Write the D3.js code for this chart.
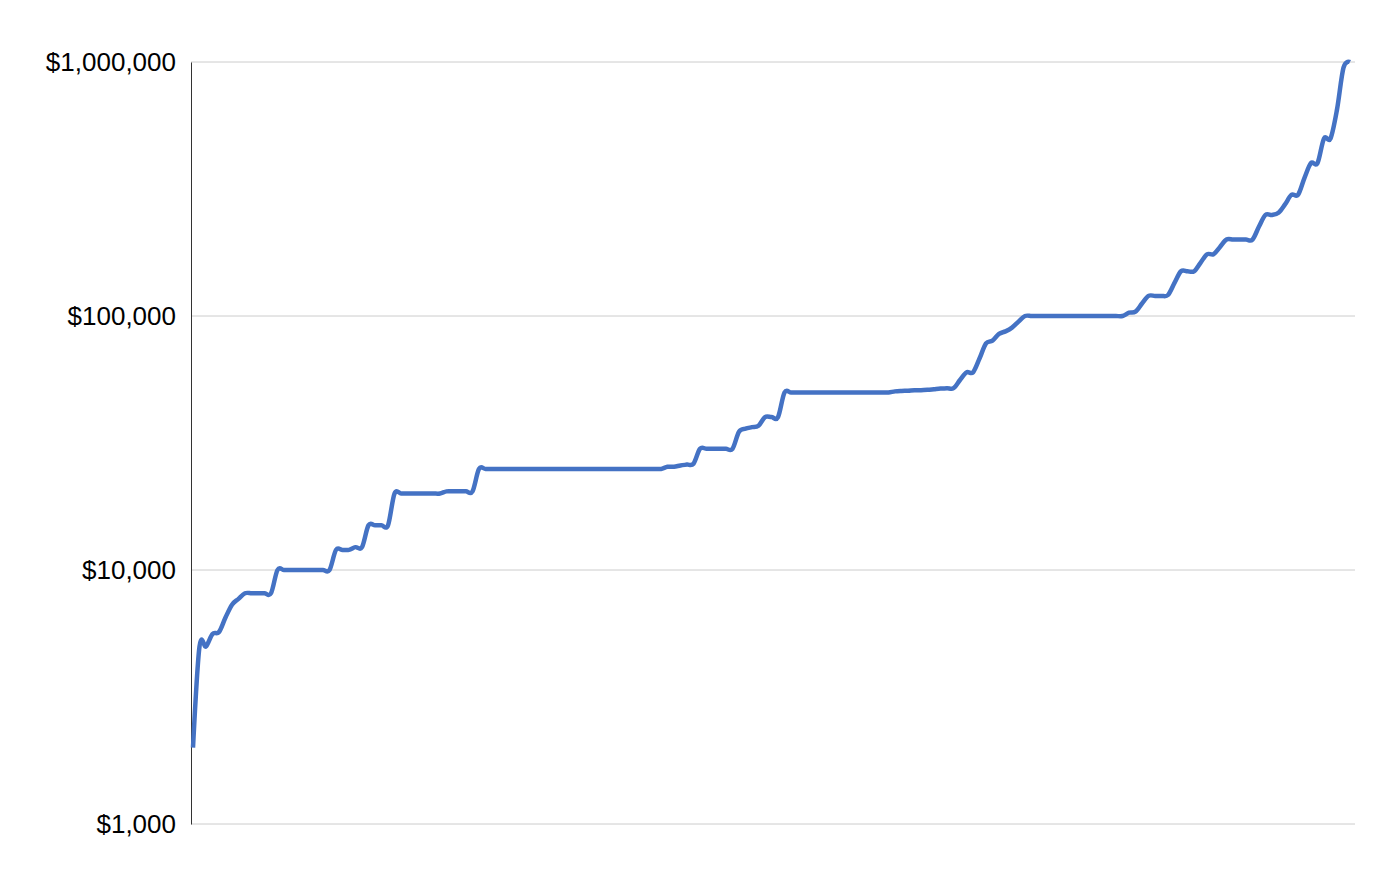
<!DOCTYPE html>
<html>
<head>
<meta charset="utf-8">
<script src="https://cdn.jsdelivr.net/npm/d3@7"></script>
<style>
  body { margin: 0; background: #fff; }
  .tick text { font-family: Arial, "Liberation Sans", sans-serif; }
</style>
</head>
<body>
<div id="chart"></div>
<script>
// sorted amounts, one per rank
const amounts = [
  2000, 5000, 5000, 5600, 5700, 6500, 7300, 7700, 8100, 8100,
  8100, 8100, 8100, 10000, 10000, 10000, 10000, 10000, 10000, 10000,
  10000, 10000, 12000, 12000, 12000, 12300, 12300, 15000, 15000, 15000,
  15000, 20000, 20000, 20000, 20000, 20000, 20000, 20000, 20000, 20400,
  20400, 20400, 20400, 20400, 25000, 25000, 25000, 25000, 25000, 25000,
  25000, 25000, 25000, 25000, 25000, 25000, 25000, 25000, 25000, 25000,
  25000, 25000, 25000, 25000, 25000, 25000, 25000, 25000, 25000, 25000,
  25000, 25000, 25000, 25500, 25500, 25800, 26000, 26200, 30000, 30000,
  30000, 30000, 30000, 30000, 35000, 36000, 36500, 37000, 40000, 40000,
  40000, 50000, 50000, 50000, 50000, 50000, 50000, 50000, 50000, 50000,
  50000, 50000, 50000, 50000, 50000, 50000, 50000, 50000, 50500, 50700,
  50800, 51000, 51000, 51200, 51500, 51800, 52000, 52000, 56000, 60000,
  60000, 68000, 78000, 80000, 85000, 87000, 90000, 95000, 100000, 100000,
  100000, 100000, 100000, 100000, 100000, 100000, 100000, 100000, 100000, 100000,
  100000, 100000, 100000, 100000, 103000, 104000, 112000, 120000, 120000, 120000,
  121000, 135000, 150000, 150000, 150000, 162000, 175000, 175000, 187000, 200000,
  200000, 200000, 200000, 200000, 225000, 250000, 250000, 255000, 275000, 300000,
  300000, 350000, 400000, 400000, 500000, 500000, 650000, 950000, 1000000
];

const yTicks = [1000, 10000, 100000, 1000000];

var margin = {top: 62, right: 45, bottom: 58, left: 191},
    width = 1400 - margin.left - margin.right,
    height = 882 - margin.top - margin.bottom;

var svg = d3.select("#chart")
  .append("svg")
    .attr("width", 1400)
    .attr("height", 882)
  .append("g")
    .attr("transform", "translate(" + margin.left + "," + margin.top + ")");

const x = d3.scaleLinear()
  .domain([0, amounts.length - 1])
  .range([2, width - 5]);

const y = d3.scaleLog()
  .domain([1000, 1000000])
  .range([height, 0]);

// gridlines
svg.append("g")
  .selectAll("line")
  .data(yTicks)
  .join("line")
    .attr("x1", 0)
    .attr("x2", width)
    .attr("y1", d => y(d))
    .attr("y2", d => y(d))
    .attr("stroke", "#cccccc")
    .attr("stroke-width", 1);

// y axis
const yAxis = svg.append("g")
  .call(d3.axisLeft(y)
    .tickValues(yTicks)
    .tickFormat(d3.format("$,"))
    .tickSize(0)
    .tickPadding(15));
yAxis.select(".domain").attr("stroke", "#333333");
yAxis.selectAll(".tick text")
  .attr("font-size", 26)
  .attr("fill", "#000");

// the line
svg.append("path")
  .datum(amounts)
  .attr("fill", "none")
  .attr("stroke", "#4472c4")
  .attr("stroke-width", 4.5)
  .attr("stroke-linejoin", "round")
  .attr("d", d3.line()
    .x((d, i) => x(i))
    .y(d => y(d))
    .curve(d3.curveCardinal.tension(0)));
</script>
</body>
</html>
